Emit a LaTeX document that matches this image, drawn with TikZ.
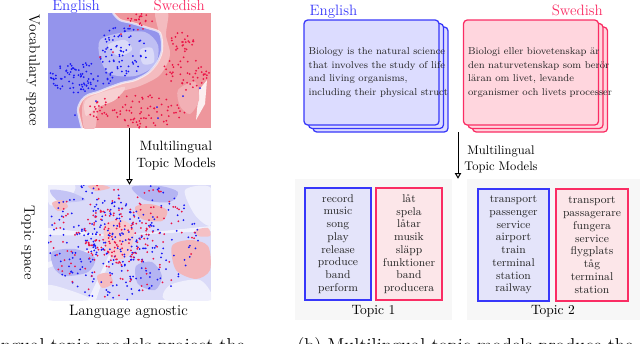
\documentclass[tikz,border=0pt]{standalone}
\definecolor{engblue}{RGB}{55,55,250}
\definecolor{swered}{RGB}{250,45,100}
\definecolor{engfill}{RGB}{220,220,255}
\definecolor{swefill}{RGB}{255,214,222}
\definecolor{engsoft}{RGB}{228,228,250}
\definecolor{swesoft}{RGB}{252,230,233}
\definecolor{panelgray}{RGB}{247,247,247}
\definecolor{mapblue}{RGB}{148,148,236}
\definecolor{mapred}{RGB}{238,150,156}
\definecolor{dotblue}{RGB}{25,25,245}
\definecolor{dotred}{RGB}{235,20,70}
\usepackage{tikz}
\usetikzlibrary{arrows.meta,positioning,calc}
\newcommand{\dotcloud}[6]{%
  \foreach \k in {1,...,#1}{%
    \pgfmathsetmacro{\drad}{sqrt(rnd)}%
    \pgfmathsetmacro{\dang}{360*rnd}%
    \fill[#6] ({#2+#4*\drad*cos(\dang)},{#3+#5*\drad*sin(\dang)}) circle (0.8pt);}}

\begin{document}
\begin{tikzpicture}[x=0.8pt, y=-0.8pt,
    mapframe/.style={minimum width=130.4pt, minimum height=92pt, inner sep=0},
    lang/.style={font=\large, inner sep=0},
    axislabel/.style={font=\large, inner sep=0},
    mtm/.style={align=center, inner sep=0},
    flow/.style={-{Triangle[open, width=5pt, length=4.5pt]}, line width=0.8pt},
    docpage/.style={rounded corners=3pt, line width=1pt, minimum width=108pt, minimum height=84pt, inner sep=0},
    doctext/.style={align=left, inner sep=0, text=black!85, font=\fontsize{8}{11}\selectfont},
    panel/.style={fill=panelgray, minimum height=112.8pt, inner sep=0},
    wordbox/.style={line width=1pt, minimum height=89.6pt, inner sep=0, align=center, text=black!85, font=\fontsize{9}{10.2}\selectfont},
    topiclabel/.style={font=\fontsize{10.8}{13}\selectfont},
    caption/.style={font=\fontsize{14.9}{18}\selectfont, inner sep=0}]
    \useasboundingbox (0,0) rectangle (640,343);
    \clip (0,0) rectangle (640,343);
    \pgfmathsetseed{11}

    % (a) vocabulary space
    \node[mapframe] (vocabmap) at (129.5,70.5) {};
    \begin{scope}
        \clip (48,13) rectangle (211,128);
        \fill[mapred] (48,13) rectangle (211,128);
        \fill[mapred!65] plot[smooth cycle] coordinates {(155,13) (168,13) (166,35) (170,55) (160,75) (140,86) (120,92) (100,104) (95,128) (84,128) (84,100) (110,86) (150,72) (162,50)};
        \fill[mapred!45] plot[smooth cycle] coordinates {(85,101) (100,93) (125,87) (115,100) (96,108) (86,116)};
        \fill[white!85!mapred] (196,120) -- (199,90) -- (207,80) -- (205,104) -- cycle;
        \fill[mapred!75] plot[smooth cycle] coordinates {(178,90) (195,82) (199,100) (190,114) (180,106)};
        \fill[mapblue] (48,13) -- plot[smooth] coordinates {(113,13) (120,20) (132,23) (148,28) (160,33) (162,50) (157,63) (148,73) (135,80) (122,83) (108,88) (98,92) (88,95) (82,100) (78,110) (82,128)} -- (48,128) -- cycle;
        \fill[mapblue!60] plot[smooth cycle] coordinates {(100,40) (120,33) (145,32) (158,45) (155,65) (135,76) (110,74) (100,58)};
        \fill[white!65!mapblue] plot[smooth cycle] coordinates {(108,45) (125,40) (132,50) (118,56)};
        \fill[white!65!mapblue] plot[smooth cycle] coordinates {(140,50) (152,48) (154,62) (143,64)};
        \draw[white, line width=1.8pt, opacity=.65] plot[smooth] coordinates {(113,13) (120,20) (132,23) (148,28) (160,33) (162,50) (157,63) (148,73) (135,80) (122,83) (108,88) (98,92) (88,95) (82,100) (78,110) (82,128)};
        \dotcloud{90}{80}{77}{34}{16}{dotblue}
        \dotcloud{70}{123}{50}{24}{26}{dotblue}
        \dotcloud{22}{141}{21}{14}{9}{dotred}
        \dotcloud{25}{182}{42}{12}{10}{dotred}
        \dotcloud{45}{185}{73}{26}{17}{dotred}
        \dotcloud{90}{137}{111}{50}{17}{dotred}
        \foreach \px/\py in {96/101, 157/107, 200/88, 75/115, 158/118, 183/96}
            \fill[dotblue] (\px,\py) circle (0.8pt);
        \foreach \px/\py in {113/52, 100/57, 121/34}
            \fill[dotred] (\px,\py) circle (0.8pt);
    \end{scope}
    \node[lang, text=engblue, anchor=base west] (englishmap) at (52,10.5) {English};
    \node[lang, text=swered, anchor=base east] (swedishmap) at (205,10.5) {Swedish};
    \node[axislabel, rotate=-90] (vocablabel) at (33,70.5) {Vocabulary space};

    % (a) topic space
    \node[mapframe] (topicmap) at (129.5,242.5) {};
    \begin{scope}
        \clip (48,185) rectangle (211,300);
        \fill[mapblue!35] (48,185) rectangle (211,300);
        \fill[white!85!mapblue] plot[smooth cycle] coordinates {(48,185) (75,185) (68,200) (50,205)};
        \fill[white!85!mapblue] plot[smooth cycle] coordinates {(185,190) (211,188) (211,225) (195,215)};
        \fill[white!85!mapblue] plot[smooth cycle] coordinates {(48,285) (75,292) (90,300) (48,300)};
        \fill[white!85!mapblue] plot[smooth cycle] coordinates {(170,285) (200,280) (211,300) (165,300)};
        \foreach \ax/\ay/\bx/\by/\cx/\cy in {48/228/118/236/48/235, 211/226/125/235/211/231, 88/300/116/240/96/300, 48/262/110/244/48/268}
            \fill[white, opacity=.6] (\ax,\ay) -- (\bx,\by) -- (\cx,\cy) -- cycle;
        \fill[mapblue!70] plot[smooth cycle] coordinates {(132,187) (160,186) (178,192) (170,202) (145,200)};
        \fill[mapblue!70] plot[smooth cycle] coordinates {(52,252) (75,249) (95,258) (88,272) (65,276) (54,268)};
        \fill[mapblue!70] plot[smooth cycle] coordinates {(136,266) (152,262) (162,276) (155,290) (138,284)};
        \fill[mapblue!55] plot[smooth cycle] coordinates {(50,190) (70,192) (85,200) (60,202)};
        \fill[mapred!70] plot[smooth cycle] coordinates {(172,246) (190,240) (208,246) (210,270) (196,279) (176,270)};
        \fill[mapred!70] plot[smooth cycle] coordinates {(135,207) (150,204) (167,210) (162,221) (142,219)};
        \fill[mapred!65] plot[smooth cycle] coordinates {(88,186) (102,185) (110,188) (96,191)};
        \fill[mapred!65] plot[smooth cycle] coordinates {(52,203) (62,200) (68,207) (58,211)};
        \fill[mapred!65] plot[smooth cycle] coordinates {(97,276) (108,273) (113,283) (102,288)};
        \fill[mapred!50] plot[smooth cycle] coordinates {(106,224) (122,220) (134,230) (128,256) (112,258) (104,240)};
        \fill[mapred!60] plot[smooth cycle] coordinates {(196,230) (208,228) (210,236) (198,236)};
        \dotcloud{90}{116}{236}{40}{34}{dotblue}
        \dotcloud{200}{120}{240}{80}{62}{dotblue}
        \dotcloud{110}{118}{236}{36}{32}{dotred}
        \dotcloud{120}{120}{240}{76}{58}{dotred}
    \end{scope}
    \node[axislabel, rotate=-90] (topiclabel) at (28,242.5) {Topic space};
    \node[axislabel] (agnostic) at (128.5,311.5) {Language agnostic};

    \draw[flow] (vocabmap.south) -- (topicmap.north);
    \node[mtm, font=\fontsize{10.8}{13.6}\selectfont] (mtmleft) at (176,156) {Multilingual\\Topic Models};

    % (b) documents
    \foreach \s in {2,1,0}
        \node[docpage, draw=engblue, fill=engfill] (engpage\s) at ($(371.5,72.5)+(4.5*\s,3.5*\s)$) {};
    \foreach \s in {2,1,0}
        \node[docpage, draw=swered, fill=swefill] (swepage\s) at ($(531,72.5)+(4.5*\s,3.5*\s)$) {};
    \node[doctext, anchor=west, xshift=4pt] (engtext) at (engpage0.west) {Biology is the natural science\\that involves the study of life\\and living organisms,\\including their physical struct};
    \node[doctext, anchor=west, xshift=4pt] (swetext) at (swepage0.west) {Biologi eller biovetenskap är\\den naturvetenskap som berör\\läran om livet, levande\\organismer och livets processer};
    \node[lang, text=engblue, anchor=base west, xshift=4.8pt, yshift=2.8pt] (englishdoc) at (engpage0.north west) {English};
    \node[lang, text=swered, anchor=base east, xshift=3.2pt, yshift=2.8pt] (swedishdoc) at (swepage0.north east) {Swedish};

    % (b) topics
    \node[panel, minimum width=125.6pt] (topicone) at (373.5,249.5) {};
    \node[panel, minimum width=138.4pt] (topictwo) at (553.5,249.5) {};
    \coordinate (docsout) at (458,132);
    \draw[flow] (docsout) -- (docsout |- topicone.north);
    \node[mtm, font=\fontsize{10}{12.8}\selectfont] (mtmright) at (501,159) {Multilingual\\Topic Models};

    \node[wordbox, draw=engblue, fill=engsoft, minimum width=52.8pt] (oneeng) at (338,244) {record\\music\\song\\play\\release\\produce\\band\\perform};
    \node[wordbox, draw=swered, fill=swesoft, minimum width=52.8pt] (oneswe) at (409,244) {låt\\spela\\låtar\\musik\\släpp\\funktioner\\band\\producera};
    \node[wordbox, draw=engblue, fill=engsoft, minimum width=56.8pt] (twoeng) at (513.5,245) {transport\\passenger\\service\\airport\\train\\terminal\\station\\railway};
    \node[wordbox, draw=swered, fill=swesoft, minimum width=57.6pt] (twoswe) at (592,245) {transport\\passagerare\\fungera\\service\\flygplats\\tåg\\terminal\\station};
    \node[topiclabel] (onelabel) at (373.5,311.5) {Topic 1};
    \node[topiclabel] (twolabel) at (553,311.5) {Topic 2};

    % captions, cut by the page edge
    \node[caption, anchor=base east] (capa) at (245,351) {(a) Multilingual topic models project the};
    \node[caption, anchor=base west] (capb) at (297,351) {(b) Multilingual topic models produce the};
\end{tikzpicture}
\end{document}
